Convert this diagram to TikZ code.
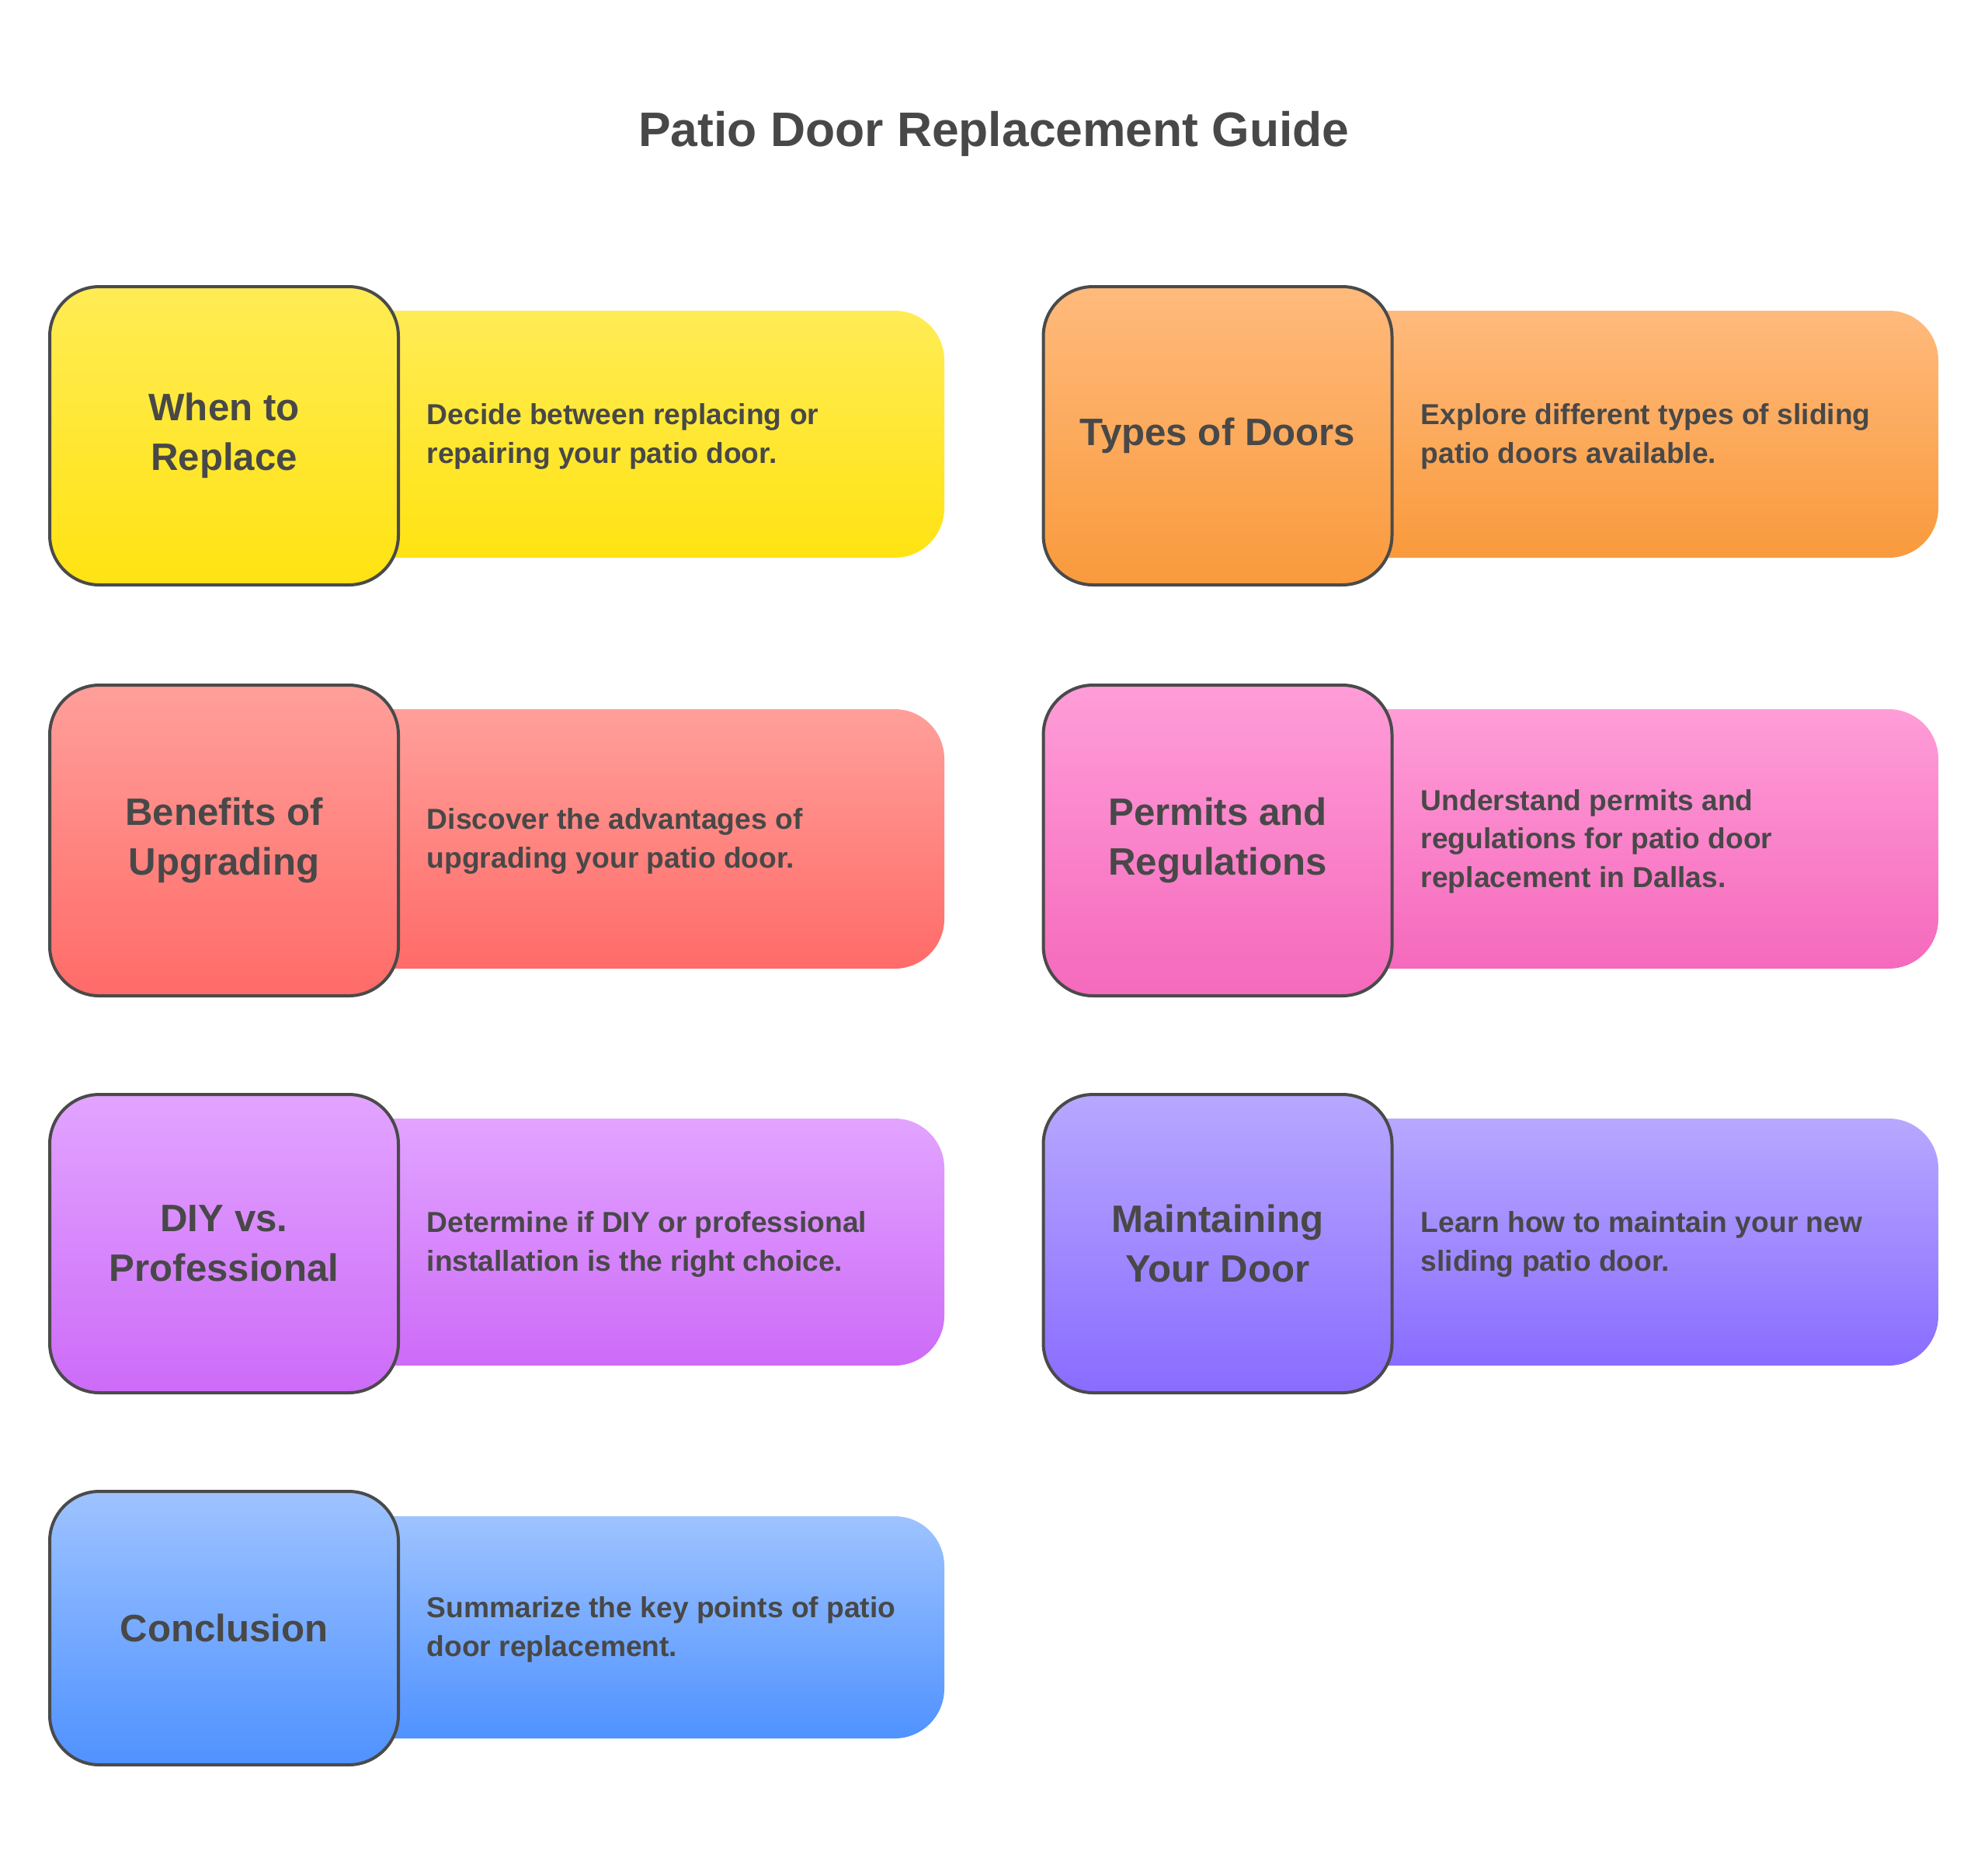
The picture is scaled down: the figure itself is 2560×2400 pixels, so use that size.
\documentclass[tikz,border=0pt]{standalone}
\usepackage{fontspec}
\setmainfont{Liberation Sans}
\definecolor{txt}{HTML}{484848}
\definecolor{edge}{HTML}{4A4A4A}
\definecolor{yT}{HTML}{FFEC55}\definecolor{yB}{HTML}{FFE312}
\definecolor{oT}{HTML}{FFBA7C}\definecolor{oB}{HTML}{F99A3C}
\definecolor{rT}{HTML}{FF9F9A}\definecolor{rB}{HTML}{FF6B68}
\definecolor{pT}{HTML}{FF9DD8}\definecolor{pB}{HTML}{F569BC}
\definecolor{uT}{HTML}{E2A4FF}\definecolor{uB}{HTML}{CD6BF8}
\definecolor{vT}{HTML}{B8A8FF}\definecolor{vB}{HTML}{896CFF}
\definecolor{bT}{HTML}{9EC3FF}\definecolor{bB}{HTML}{4F92FF}
\tikzset{
  sq/.style={rectangle, rounded corners=16pt, draw=edge, line width=1pt,
    minimum width=112.25pt, inner sep=0pt, align=center, text=txt,
    font=\fontsize{12.3}{16}\selectfont\bfseries},
  band/.style={rectangle, rounded corners=16pt, minimum width=229pt, inner sep=0pt},
  desc/.style={anchor=west, align=left, text=txt, inner sep=0pt,
    font=\fontsize{9.3}{12.4}\selectfont\bfseries},
}
\begin{document}
\begin{tikzpicture}[x=0.25pt,y=-0.25pt]
\useasboundingbox (0,0) rectangle (2560,2400);
\fill[white] (0,0) rectangle (2560,2400);
\node[text=txt, font=\fontsize{15.6}{18}\selectfont\bfseries] (title) at (1280,172) {Patio Door Replacement Guide};

% Row 1
\node[band, minimum height=79.5pt, top color=yT, bottom color=yB] (b1) at (758,559) {};
\node[sq, minimum height=96pt, top color=yT, bottom color=yB] (s1) at (288.5,561) {When to\\Replace};
\node[desc] (d1) at (549,562) {Decide between replacing or\\repairing your patio door.};

\node[band, minimum height=79.5pt, top color=oT, bottom color=oB] (b2) at (2038,559) {};
\node[sq, minimum height=96pt, top color=oT, bottom color=oB] (s2) at (1568,561) {Types of Doors};
\node[desc] (d2) at (1829,562) {Explore different types of sliding\\patio doors available.};

% Row 2
\node[band, minimum height=83.5pt, top color=rT, bottom color=rB] (b3) at (758,1080) {};
\node[sq, minimum height=100pt, top color=rT, bottom color=rB] (s3) at (288.5,1082) {Benefits of\\Upgrading};
\node[desc] (d3) at (549,1083) {Discover the advantages of\\upgrading your patio door.};

\node[band, minimum height=83.5pt, top color=pT, bottom color=pB] (b4) at (2038,1080) {};
\node[sq, minimum height=100pt, top color=pT, bottom color=pB] (s4) at (1568,1082) {Permits and\\Regulations};
\node[desc] (d4) at (1829,1083) {Understand permits and\\regulations for patio door\\replacement in Dallas.};

% Row 3
\node[band, minimum height=79.5pt, top color=uT, bottom color=uB] (b5) at (758,1599) {};
\node[sq, minimum height=96pt, top color=uT, bottom color=uB] (s5) at (288.5,1601) {DIY vs.\\Professional};
\node[desc] (d5) at (549,1602) {Determine if DIY or professional\\installation is the right choice.};

\node[band, minimum height=79.5pt, top color=vT, bottom color=vB] (b6) at (2038,1599) {};
\node[sq, minimum height=96pt, top color=vT, bottom color=vB] (s6) at (1568,1601) {Maintaining\\Your Door};
\node[desc] (d6) at (1829,1602) {Learn how to maintain your new\\sliding patio door.};

% Row 4
\node[band, minimum height=71.5pt, top color=bT, bottom color=bB] (b7) at (758,2095) {};
\node[sq, minimum height=88pt, top color=bT, bottom color=bB] (s7) at (288.5,2096) {Conclusion};
\node[desc] (d7) at (549,2098) {Summarize the key points of patio\\door replacement.};
\end{tikzpicture}
\end{document}
